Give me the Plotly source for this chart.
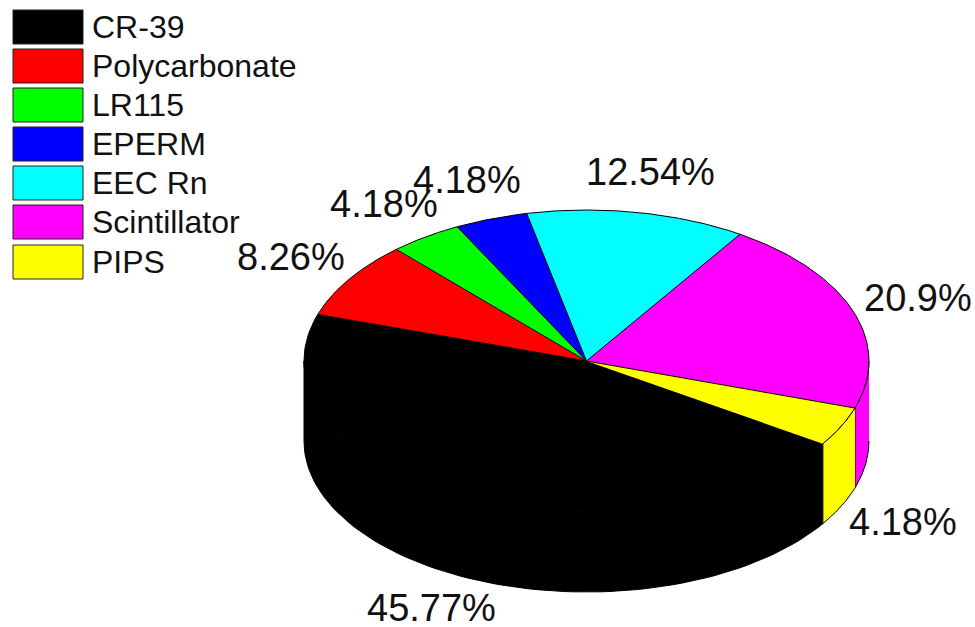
'''
    Pseudo 3D pie chart of radon detector types, drawn as filled scatter polygons
    since go.Pie has no tilt or depth.
'''

import numpy as np
import plotly.graph_objects as go

categories = ['CR-39', 'Polycarbonate', 'LR115', 'EPERM', 'EEC Rn', 'Scintillator', 'PIPS']
shares = [45.77, 8.26, 4.18, 4.18, 12.54, 20.9, 4.18]
share_labels = ['45.77%', '8.26%', '4.18%', '4.18%', '12.54%', '20.9%', '4.18%']
colors = ['#000000', '#ff0000', '#00ff00', '#0000ff', '#00ffff', '#ff00ff', '#ffff00']

# label nudges from the rim point of each slice, in pixels
label_dx = [-33, -58, -41, -24, 13, 65, 62]
label_dy = [111, -22, -33, -39, -40, -13, 96]
legend_tops = [10, 49, 88, 127, 166, 205, 245]

CX, CY = 586.5, 361
RX, RY = 282.5, 151
DEPTH = 80
START = -33.2
EDGE = '#000000'


def rim(angles, drop=0):
    rad = np.radians(angles)
    return CX + RX * np.cos(rad), CY - RY * np.sin(rad) + drop


def get_arcs():
    # slices run clockwise from the front right of the pie
    sweep = np.array(shares) / sum(shares) * 360
    ends = START - np.cumsum(sweep)
    starts = ends + sweep
    return starts, ends


fig = go.Figure()
starts, ends = get_arcs()

# side wall first, only the front half of the pie shows it
for name, color, a0, a1 in zip(categories, colors, starts, ends):
    for low, high in [(-180, 0), (-540, -360)]:
        s, e = min(a0, high), max(a1, low)
        if s <= e:
            continue
        t = np.linspace(s, e, 80)
        x_top, y_top = rim(t)
        x_low, y_low = rim(t[::-1], DEPTH)
        fig.add_trace(go.Scatter(
            x=np.concatenate([x_top, x_low]), y=np.concatenate([y_top, y_low]),
            mode='lines', fill='toself', fillcolor=color,
            line=dict(color=EDGE, width=1),
            name=name, hoverinfo='name', showlegend=False))

for name, color, a0, a1 in zip(categories, colors, starts, ends):
    t = np.linspace(a0, a1, 120)
    x_arc, y_arc = rim(t)
    fig.add_trace(go.Scatter(
        x=np.concatenate([[CX], x_arc]), y=np.concatenate([[CY], y_arc]),
        mode='lines', fill='toself', fillcolor=color,
        line=dict(color=EDGE, width=1),
        name=name, hoverinfo='name', showlegend=False))

# percentage labels
for label, a0, a1, dx, dy in zip(share_labels, starts, ends, label_dx, label_dy):
    x_mid, y_mid = rim((a0 + a1) / 2)
    fig.add_annotation(x=x_mid, y=y_mid, text=label, showarrow=False,
                       xshift=dx, yshift=-dy, xanchor='center', yanchor='middle',
                       font=dict(family='Liberation Sans', size=38, color='#111111'))

# hand made legend, the built in one cannot draw swatches this large
for name, color, top in zip(categories, colors, legend_tops):
    fig.add_shape(type='rect', x0=13, x1=83, y0=top, y1=top + 34,
                  fillcolor=color, line=dict(color='#222222', width=1))
    fig.add_annotation(x=90, y=top + 17, text=name, showarrow=False,
                       xanchor='left', yanchor='middle',
                       font=dict(family='Liberation Sans', size=32, color='#111111'))

fig.update_xaxes(range=[0, 975], visible=False, fixedrange=True)
fig.update_yaxes(range=[627, 0], visible=False, fixedrange=True)
fig.update_layout(width=975, height=627, margin=dict(l=0, r=0, t=0, b=0),
                  paper_bgcolor='white', plot_bgcolor='white', showlegend=False)

# the page's default body margin would push the figure off by 8px
fig.write_html("out.html", config=dict(displayModeBar=False),
               post_script="document.body.style.margin = '0';")
